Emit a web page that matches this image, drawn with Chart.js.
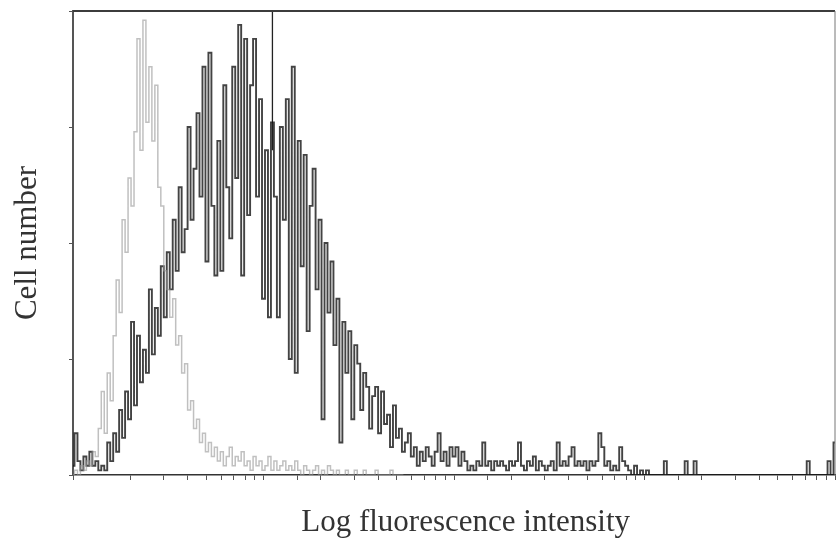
<!DOCTYPE html>
<html>
<head>
<meta charset="utf-8">
<script src="https://cdn.jsdelivr.net/npm/chart.js@4"></script>
<style>
  html, body { margin: 0; padding: 0; background: #fff; }
</style>
</head>
<body>
<canvas id="myChart" width="837" height="542"></canvas>
<script>
// Channel counts (100 = top of the plot), one value per channel
const stainedCounts = [
    2, 9, 3, 1, 4, 2, 5, 2, 3, 1, 2, 1, 7, 3, 9, 5,
    14, 8, 18, 12, 33, 15, 30, 20, 27, 22, 40, 26, 36, 30, 45, 34,
    48, 40, 55, 44, 62, 48, 53, 75, 55, 66, 78, 60, 88, 46, 91, 58,
    43, 72, 44, 84, 62, 51, 88, 64, 97, 43, 94, 56, 84, 94, 60, 81,
    38, 70, 34, 76, 60, 34, 75, 55, 81, 25, 88, 22, 72, 45, 69, 31,
    58, 66, 40, 55, 12, 50, 35, 46, 28, 38, 7, 33, 22, 31, 12, 28,
    24, 14, 22, 19, 10, 17, 19, 9, 18, 11, 13, 6, 15, 8, 10, 5,
    7, 9, 4, 6, 2, 5, 3, 6, 4, 2, 5, 9, 3, 5, 2, 6,
    4, 6, 2, 5, 3, 1, 2, 1, 3, 2, 7, 2, 3, 1, 3, 2,
    3, 2, 1, 3, 2, 3, 7, 2, 1, 3, 2, 4, 1, 3, 2, 1,
    2, 3, 1, 7, 2, 3, 2, 4, 6, 2, 3, 2, 3, 1, 3, 2,
    3, 9, 6, 2, 3, 1, 2, 1, 6, 3, 2, 1, 0, 2, 0, 1,
    0, 1, 0, 0, 0, 0, 0, 3, 0, 0, 0, 0, 0, 0, 3, 0,
    0, 3, 0, 0, 0, 0, 0, 0, 0, 0, 0, 0, 0, 0, 0, 0,
    0, 0, 0, 0, 0, 0, 0, 0, 0, 0, 0, 0, 0, 0, 0, 0,
    0, 0, 0, 0, 0, 0, 0, 3, 0, 0, 0, 0, 0, 0, 3, 0,
    7
];

const controlCounts = [
    0, 1, 0, 2, 1, 3, 2, 5, 4, 10, 18, 9, 22, 16, 30, 42,
    35, 55, 48, 64, 58, 74, 94, 70, 98, 76, 88, 72, 84, 62, 58, 44,
    40, 34, 38, 28, 30, 22, 24, 14, 16, 10, 12, 7, 9, 5, 7, 4,
    6, 3, 5, 2, 4, 6, 2, 4, 3, 5, 2, 3, 1, 4, 2, 3,
    1, 2, 4, 1, 3, 1, 2, 3, 1, 2, 1, 3, 1, 0, 2, 1,
    0, 1, 2, 0, 1, 0, 2, 1, 0, 1, 0, 0, 1, 0, 0, 1,
    0, 0, 1, 0, 0, 0, 1, 0, 0, 0, 0, 1, 0, 0, 0, 0
];

// Gate marker: channel and the span it covers
const markerChannel = 67;
const markerSpan = [100, 70];

const CHANNELS = 256;
const Y_MAX = 100;
const Y_STEP = 25;
const LOG_MIN = 1;
const LOG_MAX = 10000;

const toPoints = arr => arr.map((v, i) => ({ x: i, y: v }));

// Draws the top and right frame lines of the plot
const frame = {
    id: 'frame',
    afterDraw(chart) {
        const { ctx, chartArea: a } = chart;
        ctx.save();
        ctx.strokeStyle = '#3c3c3c';
        ctx.lineWidth = 2;
        ctx.beginPath();
        ctx.moveTo(a.left, a.top);
        ctx.lineTo(a.right, a.top);
        ctx.stroke();
        ctx.lineWidth = 1;
        ctx.strokeStyle = '#777';
        ctx.beginPath();
        ctx.moveTo(a.right, a.top);
        ctx.lineTo(a.right, a.bottom);
        ctx.stroke();
        ctx.restore();
    }
};

const titleFont = { family: '"Liberation Serif", "DejaVu Serif", serif', size: 31 };

const ctx = document.getElementById('myChart');
const myChart = new Chart(ctx, {
    type: 'line',
    data: {
        datasets: [
            {
                label: 'control',
                data: toPoints(controlCounts),
                borderColor: 'rgba(150,150,150,0.6)',
                borderWidth: 1.5,
                pointRadius: 0,
                stepped: 'middle',
                fill: false
            },
            {
                label: 'stained',
                data: toPoints(stainedCounts),
                borderColor: 'rgba(20,20,20,0.8)',
                borderWidth: 1.9,
                pointRadius: 0,
                stepped: 'middle',
                fill: false
            },
            {
                label: 'marker',
                data: markerSpan.map(v => ({ x: markerChannel, y: v })),
                borderColor: '#222',
                borderWidth: 1.3,
                pointRadius: 0,
                fill: false
            }
        ]
    },
    options: {
        responsive: false,
        animation: false,
        events: [],
        layout: { padding: { top: 11, right: 2, left: 0, bottom: 0 } },
        plugins: {
            legend: { display: false },
            tooltip: { enabled: false }
        },
        scales: {
            x: {
                type: 'linear',
                min: 0,
                max: CHANNELS,
                display: false
            },
            xlog: {
                type: 'logarithmic',
                position: 'bottom',
                min: LOG_MIN,
                max: LOG_MAX,
                afterFit: scale => { scale.height = 67; },
                grid: {
                    drawOnChartArea: false,
                    drawTicks: true,
                    tickLength: 5,
                    color: '#555'
                },
                border: { display: true, color: '#333', width: 1.5 },
                ticks: { display: false, autoSkip: false },
                title: {
                    display: true,
                    text: '   Log fluorescence intensity',
                    color: '#333',
                    font: titleFont,
                    padding: { top: 0, bottom: 1 }
                }
            },
            y: {
                type: 'linear',
                min: 0,
                max: Y_MAX,
                afterFit: scale => { scale.width = 73; },
                grid: {
                    drawOnChartArea: false,
                    drawTicks: true,
                    tickLength: 4,
                    color: '#555'
                },
                border: { display: true, color: '#555', width: 2 },
                ticks: { display: false, stepSize: Y_STEP },
                title: {
                    display: true,
                    text: 'Cell number',
                    color: '#333',
                    font: titleFont,
                    padding: { top: 9, bottom: 0 }
                }
            }
        }
    },
    plugins: [frame]
});
</script>
</body>
</html>
